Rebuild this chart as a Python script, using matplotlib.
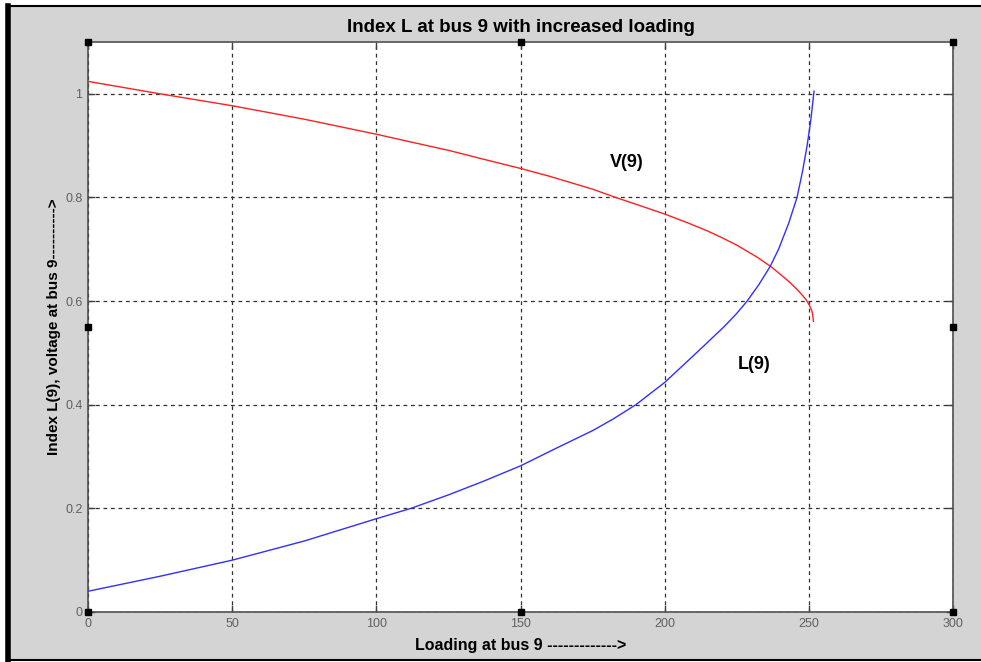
import matplotlib
matplotlib.use("Agg")
import matplotlib.pyplot as plt
from matplotlib.patches import Rectangle
from matplotlib.lines import Line2D

plt.rcParams['font.family'] = ['Liberation Sans', 'DejaVu Sans']

# voltage magnitude at bus 9 vs loading
load_v = [0, 25, 50, 75, 100, 112, 125, 137, 150, 160, 175, 183, 190, 200, 208,
          215, 220, 225, 232, 237, 242, 244, 246, 247.5, 249, 250, 250.5, 251,
          251.3, 251.6]
volt = [1.024, 1.000, 0.977, 0.951, 0.922, 0.907, 0.891, 0.874, 0.856, 0.841,
        0.816, 0.800, 0.787, 0.768, 0.751, 0.735, 0.722, 0.708, 0.685, 0.666,
        0.643, 0.633, 0.622, 0.613, 0.603, 0.594, 0.588, 0.582, 0.575, 0.561]

# L-index at bus 9 vs loading
load_l = [0, 25, 50, 75, 100, 112, 125, 137, 150, 162, 175, 182, 190, 200, 211,
          220.5, 224.8, 228.6, 232.7, 236.6, 239.5, 243, 245.9, 247.8, 249.4,
          250.7, 251.8]
lindex = [0.040, 0.069, 0.100, 0.137, 0.180, 0.200, 0.226, 0.252, 0.282, 0.315,
          0.350, 0.372, 0.400, 0.443, 0.500, 0.550, 0.575, 0.600, 0.632, 0.667,
          0.700, 0.750, 0.800, 0.850, 0.900, 0.950, 1.005]

xticks = [0, 50, 100, 150, 200, 250, 300]
yticks = [0, 0.2, 0.4, 0.6, 0.8, 1.0]
ytick_labels = ['0', '0.2', '0.4', '0.6', '0.8', '1']

W, H = 981, 662
fig = plt.figure(figsize=(W / 100, H / 100), dpi=100, facecolor='white')

# gray window background with a dark frame
fig.patches.append(Rectangle((8 / W, 2 / H), 1, (H - 8) / H, transform=fig.transFigure,
                             facecolor='#d4d4d4', edgecolor='black', lw=1.5, zorder=-2))
fig.lines.append(Line2D([8 / W, 8 / W], [2 / H, (H - 6) / H], transform=fig.transFigure,
                        color='black', lw=4, zorder=-1))

ax = fig.add_axes([88 / W, 50 / H, 865 / W, 570 / H])
ax.set_facecolor('white')

ax.plot(load_v, volt, color='#ff2020', lw=1.0, zorder=3)
ax.plot(load_l, lindex, color='#3030ff', lw=1.0, zorder=3)

ax.set_xlim(0, 300)
ax.set_ylim(0, 1.1)
ax.set_xticks(xticks)
ax.set_yticks(yticks)
ax.set_yticklabels(ytick_labels)

ax.grid(True, color='#303030', linestyle=(0, (3, 3)), lw=0.9)
ax.set_axisbelow(True)
ax.tick_params(direction='in', length=5, width=1, color='#404040',
               top=True, right=True, labelsize=9, labelcolor='#606060', pad=4)
for s in ax.spines.values():
    s.set_color('#505050')
    s.set_linewidth(1.2)

ax.text(187, 0.868, 'V(9)', fontsize=13, fontweight='bold', ha='center', va='center')
ax.text(231, 0.478, 'L(9)', fontsize=13, fontweight='bold', ha='center', va='center')

ax.set_title('Index L at bus 9 with increased loading', fontsize=13.5, fontweight='bold', pad=7)
ax.set_xlabel('Loading at bus 9 ------------->', fontsize=11.5, fontweight='bold', labelpad=6)
ax.set_ylabel('Index L(9), voltage at bus 9---------->', fontsize=11, fontweight='bold', labelpad=3)

# selection handles on the axes box
hx = [0, 0.5, 1, 0, 1, 0, 0.5, 1]
hy = [0, 0, 0, 0.5, 0.5, 1, 1, 1]
ax.plot(hx, hy, 's', color='black', ms=4, transform=ax.transAxes, clip_on=False, zorder=5)

fig.savefig('out.png', dpi=100, facecolor=fig.get_facecolor())
